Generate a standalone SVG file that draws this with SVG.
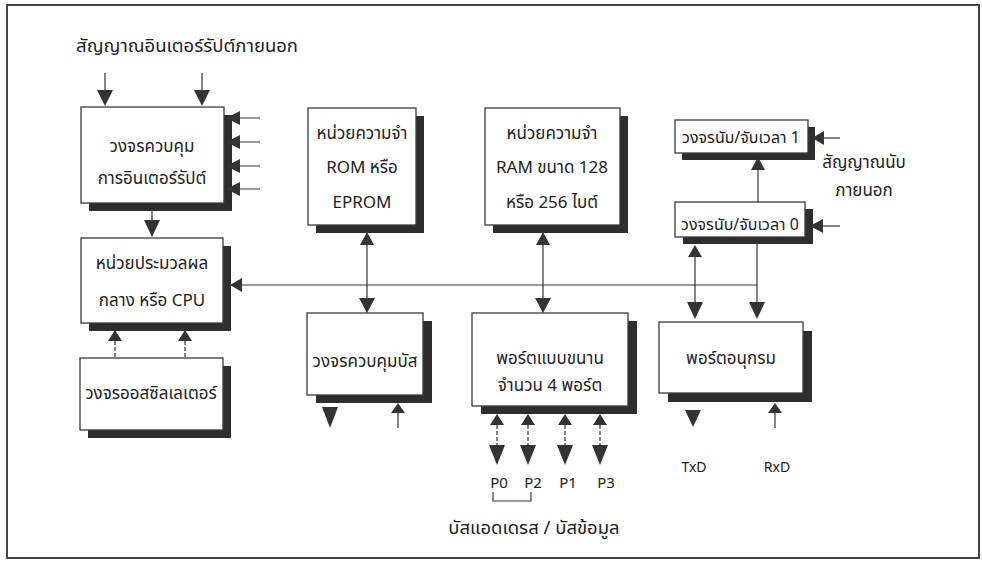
<svg xmlns="http://www.w3.org/2000/svg" width="982" height="562" viewBox="0 0 982 562">
<defs>
<style>
.bx{fill:#fff;stroke:#3a3a3a;stroke-width:1.3}
.sh{fill:#2e2e2e}
.ln{stroke:#333;stroke-width:1.2;fill:none}
.ar{fill:#333}
.t{font-family:"Noto Sans Thai","Loma","Garuda","DejaVu Sans","Noto Sans",sans-serif;font-size:17px;fill:#222;text-anchor:middle}
.s{font-size:14px}
.p{font-size:15px}
.l{font-size:18.5px}
.m{font-size:16px}
</style>
</defs>
<rect x="0" y="0" width="982" height="562" fill="#fff"/>
<rect x="7" y="5" width="972" height="553" fill="none" stroke="#444" stroke-width="2"/>
<text class="t l" x="187" y="52">สัญญาณอินเตอร์รัปต์ภายนอก</text>

<g id="n_interrupt">
<rect class="sh" x="89" y="115" width="143" height="96"/>
<rect class="bx" x="81" y="107" width="143" height="96"/>
<text class="t" x="152" y="152">วงจรควบคุม</text>
<text class="t" x="152" y="184">การอินเตอร์รัปต์</text>
</g>
<g id="n_cpu">
<rect class="sh" x="89" y="246" width="142" height="85"/>
<rect class="bx" x="81" y="238" width="142" height="85"/>
<text class="t" x="152" y="269">หน่วยประมวลผล</text>
<text class="t" x="152" y="306">กลาง หรือ CPU</text>
</g>
<g id="n_osc">
<rect class="sh" x="88" y="366" width="143" height="72"/>
<rect class="bx" x="80" y="358" width="143" height="72"/>
<text class="t" x="151" y="399">วงจรออสซิลเลเตอร์</text>
</g>
<g id="n_rom">
<rect class="sh" x="316" y="116" width="108" height="117"/>
<rect class="bx" x="308" y="108" width="108" height="117"/>
<text class="t" x="362" y="139">หน่วยความจำ</text>
<text class="t" x="362" y="173">ROM หรือ</text>
<text class="t" x="362" y="208">EPROM</text>
</g>
<g id="n_ram">
<rect class="sh" x="493" y="116" width="135" height="117"/>
<rect class="bx" x="485" y="108" width="135" height="117"/>
<text class="t" x="552" y="139">หน่วยความจำ</text>
<text class="t" x="552" y="173">RAM ขนาด 128</text>
<text class="t" x="552" y="208">หรือ 256 ไบต์</text>
</g>
<g id="n_timer1">
<rect class="sh" x="682" y="127" width="133" height="33"/>
<rect class="bx" x="675" y="120" width="133" height="33"/>
<text class="t m" x="741" y="143">วงจรนับ/จับเวลา 1</text>
</g>
<g id="n_timer0">
<rect class="sh" x="683" y="209" width="130" height="35"/>
<rect class="bx" x="675" y="202" width="130" height="35"/>
<text class="t m" x="740" y="230">วงจรนับ/จับเวลา 0</text>
</g>
<g id="n_busctl">
<rect class="sh" x="316" y="321" width="116" height="82"/>
<rect class="bx" x="307" y="313" width="116" height="82"/>
<text class="t" x="365" y="367">วงจรควบคุมบัส</text>
</g>
<g id="n_parallel">
<rect class="sh" x="481" y="321" width="156" height="93"/>
<rect class="bx" x="472" y="313" width="156" height="93"/>
<text class="t" x="550" y="364">พอร์ตแบบขนาน</text>
<text class="t" x="550" y="391">จำนวน 4 พอร์ต</text>
</g>
<g id="n_serial">
<rect class="sh" x="668" y="331" width="144" height="71"/>
<rect class="bx" x="659" y="322" width="144" height="71"/>
<text class="t" x="731" y="364">พอร์ตอนุกรม</text>
</g>

<g id="labels">
<text class="t" x="864" y="168">สัญญาณนับ</text>
<text class="t" x="864" y="196">ภายนอก</text>
<text class="t s" x="694" y="472">TxD</text>
<text class="t s" x="777" y="472">RxD</text>
<text class="t p" x="499" y="488">P0</text>
<text class="t p" x="533" y="488">P2</text>
<text class="t p" x="568" y="488">P1</text>
<text class="t p" x="606" y="488">P3</text>
<text class="t l" x="534" y="534">บัสแอดเดรส / บัสข้อมูล</text>
</g>

<g id="connectors">
<path class="ln" d="M105 73V90M202 73V90"/>
<path class="ar" d="M97 90H113L105 106ZM194 90H210L202 106Z"/>
<path class="ln" d="M240 118H260M240 142H260M240 166H260M240 189H260"/>
<path class="ar" d="M226 118L240 111V125ZM226 142L240 135V149ZM226 166L240 159V173ZM226 189L240 182V196Z"/>
<path class="ln" d="M152 211V220"/>
<path class="ar" d="M144 220H160L152 237Z"/>
<path class="ln" d="M115 341V358M185 341V358" stroke-dasharray="4 2"/>
<path class="ar" d="M108 341H122L115 330ZM178 341H192L185 330Z"/>
<path class="ln" d="M242 285H757"/>
<path class="ar" d="M230 285L242 278V292Z"/>
<path class="ln" d="M367 245V298"/>
<path class="ar" d="M360 245H374L367 232ZM359 298H375L367 313Z"/>
<path class="ln" d="M543 245V298"/>
<path class="ar" d="M536 245H550L543 232ZM535 298H551L543 313Z"/>
<path class="ln" d="M824 138H840"/>
<path class="ar" d="M812 138L824 131V145Z"/>
<path class="ln" d="M758 170V202"/>
<path class="ar" d="M751 170H765L758 157Z"/>
<path class="ln" d="M823 226H840"/>
<path class="ar" d="M810 226L823 219V233Z"/>
<path class="ln" d="M695 257V302M757 244V302"/>
<path class="ar" d="M688 257H702L695 245ZM687 302H703L695 319ZM749 302H765L757 319Z"/>
<path class="ar" d="M322 407H338L330 428ZM391 413H405L398 403Z"/>
<path class="ln" d="M398 413V428"/>
<path class="ar" d="M490 425H504L497 414ZM521 425H535L528 414ZM558 425H572L565 414ZM593 425H607L600 414Z"/>
<path class="ln" d="M497 425V445M528 425V445M565 425V445M600 425V445" stroke-dasharray="4 2"/>
<path class="ar" d="M489 445H505L497 465ZM520 445H536L528 465ZM557 445H573L565 465ZM592 445H608L600 465Z"/>
<path class="ln" d="M493 492V501H531V492"/>
<path class="ar" d="M685 410H701L693 427ZM768 413H782L775 403Z"/>
<path class="ln" d="M775 413V428"/>
</g>
</svg>
